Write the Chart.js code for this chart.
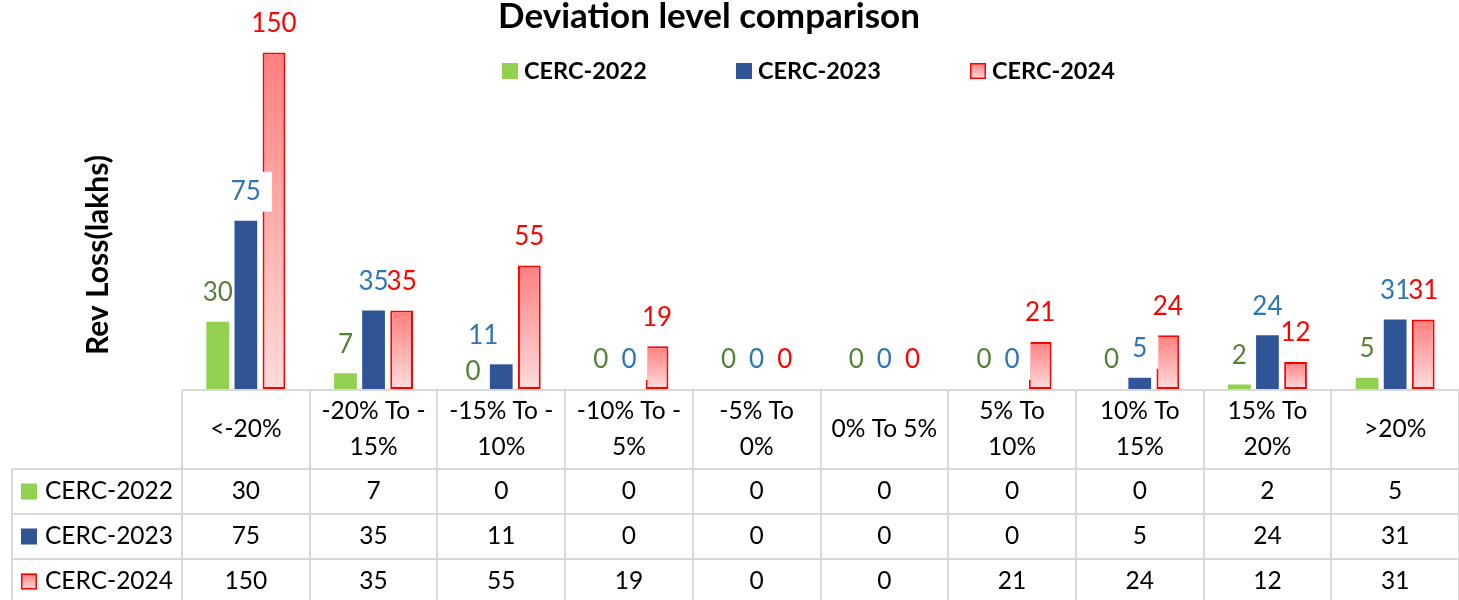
<!DOCTYPE html>
<html>
<head>
<meta charset="utf-8">
<script src="https://cdn.jsdelivr.net/npm/chart.js@4.4.1/dist/chart.umd.min.js"></script>
<style>
    html, body { margin: 0; padding: 0; background: #fff; }
    #wrap { width: 1459px; height: 600px; }
</style>
</head>
<body>
<div id="wrap"><canvas id="myChart"></canvas></div>
<script>
const labels = [
    ['<-20%'],
    ['-20% To -', '15%'],
    ['-15% To -', '10%'],
    ['-10% To -', '5%'],
    ['-5% To', '0%'],
    ['0% To 5%'],
    ['5% To', '10%'],
    ['10% To', '15%'],
    ['15% To', '20%'],
    ['>20%'],
];

const seriesNames = ['CERC-2022', 'CERC-2023', 'CERC-2024'];
const cerc2022 = [30, 7, 0, 0, 0, 0, 0, 0, 2, 5];
const cerc2023 = [75, 35, 11, 0, 0, 0, 0, 5, 24, 31];
const cerc2024 = [150, 35, 55, 19, 0, 0, 21, 24, 12, 31];

const FONT = 'Lato, sans-serif';
const labelColors = ['#548235', '#2e75b6', '#ff0000'];
const gridColor = '#d9d9d9';

// labels that were nudged by hand in the original (dataset-index: [dx, dy])
const labelNudge = { '0-2': [0, 12], '1-2': [-18, 0] };

// Excel style pink gradient, one per bar (dark top -> light bottom)
function redGradient(c, top, bottom) {
    const g = c.createLinearGradient(0, top, 0, bottom);
    g.addColorStop(0, '#ff7f7f');
    g.addColorStop(1, '#ffdcdc');
    return g;
}

function drawKey(c, di, x, y, size) {
    if (di === 2) {
        c.fillStyle = redGradient(c, y, y + size);
        c.fillRect(x, y, size, size);
        c.strokeStyle = '#ff0000';
        c.lineWidth = 1.5;
        c.strokeRect(x + 0.75, y + 0.75, size - 1.5, size - 1.5);
    } else {
        c.fillStyle = di === 0 ? '#92d050' : '#2f5597';
        c.fillRect(x, y, size, size);
    }
}

const extras = {
    id: 'extras',
    afterDatasetsDraw(chart) {
        const c = chart.ctx;
        const yScale = chart.scales.y;
        c.save();
        c.font = '26px ' + FONT;
        c.textAlign = 'center';
        c.textBaseline = 'middle';
        const items = [];
        chart.data.datasets.forEach((ds, di) => {
            chart.getDatasetMeta(di).data.forEach((bar, i) => {
                const nudge = labelNudge[di + '-' + i] || [0, 0];
                items.push({
                    di: di,
                    text: String(ds.data[i]),
                    x: bar.x + nudge[0],
                    y: yScale.getPixelForValue(ds.data[i]) - 29 + nudge[1]
                });
            });
        });
        // the blue labels sit on a white box
        c.fillStyle = '#fff';
        items.filter(it => it.di === 1).forEach(it => {
            const w = c.measureText(it.text).width + 22;
            c.fillRect(it.x - w / 2, it.y - 20, w, 40);
        });
        items.forEach(it => {
            c.fillStyle = labelColors[it.di];
            c.fillText(it.text, it.x, it.y);
        });
        c.restore();
    },
    afterDraw(chart) {
        const c = chart.ctx;
        const area = chart.chartArea;
        const xScale = chart.scales.x;
        const colW = (area.right - area.left) / labels.length;
        c.save();

        // title
        c.fillStyle = '#000';
        c.textAlign = 'center';
        c.textBaseline = 'middle';
        c.font = 'bold 35px ' + FONT;
        c.fillText('Deviation level comparison', 709, 17);

        // legend
        c.font = 'bold 23.5px ' + FONT;
        c.textAlign = 'left';
        seriesNames.forEach((name, di) => {
            const x = 502 + di * 234;
            drawKey(c, di, x, 63, 16);
            c.fillStyle = '#000';
            c.fillText(name, x + 22, 71);
        });

        // y axis title
        c.save();
        c.translate(98, 255);
        c.rotate(-Math.PI / 2);
        c.textAlign = 'center';
        c.font = 'bold 30px ' + FONT;
        c.fillText('Rev Loss(lakhs)', 0, 0);
        c.restore();

        // data table
        const top = 390, rowTop = 469, rowH = 45, bottom = 600, left = 12;
        c.strokeStyle = gridColor;
        c.lineWidth = 2;
        c.beginPath();
        c.moveTo(area.left, top); c.lineTo(area.right, top);
        for (let r = 0; r < 3; r++) {
            c.moveTo(left, rowTop + r * rowH); c.lineTo(area.right, rowTop + r * rowH);
        }
        c.moveTo(left, rowTop); c.lineTo(left, bottom);
        for (let i = 0; i <= labels.length; i++) {
            const x = Math.round(area.left + i * colW);
            c.moveTo(x, top); c.lineTo(x, bottom);
        }
        c.stroke();

        c.font = '24.5px ' + FONT;
        c.textAlign = 'center';
        c.fillStyle = '#000';
        labels.forEach((lines, i) => {
            const x = xScale.getPixelForValue(i);
            if (lines.length === 1) {
                c.fillText(lines[0], x, 429);
            } else {
                c.fillText(lines[0], x, 411);
                c.fillText(lines[1], x, 447);
            }
        });

        chart.data.datasets.forEach((ds, di) => {
            const cy = rowTop + di * rowH + rowH / 2;
            drawKey(c, di, 21, cy - 8, 16);
            c.fillStyle = '#000';
            c.textAlign = 'left';
            c.fillText(seriesNames[di], 45, cy);
            c.textAlign = 'center';
            ds.data.forEach((v, i) => {
                c.fillText(String(v), xScale.getPixelForValue(i), cy);
            });
        });
        c.restore();
    }
};

const data = {
    labels: labels,
    datasets: [{
        label: seriesNames[0],
        data: cerc2022,
        backgroundColor: '#92d050',
        borderWidth: 0,
    }, {
        label: seriesNames[1],
        data: cerc2023,
        backgroundColor: '#2f5597',
        borderWidth: 0,
    }, {
        label: seriesNames[2],
        data: cerc2024,
        backgroundColor: (ctx) => {
            const chart = ctx.chart;
            if (!chart.chartArea || ctx.raw === undefined) return '#ff9999';
            const y = chart.scales.y;
            return redGradient(chart.ctx, y.getPixelForValue(ctx.raw), y.getPixelForValue(0));
        },
        borderColor: '#ff0000',
        borderWidth: (ctx) => (ctx.raw ? 2 : 0),
        borderSkipped: false,
    }]
};

const config = {
    type: 'bar',
    data: data,
    options: {
        responsive: true,
        maintainAspectRatio: false,
        animation: false,
        layout: {
            padding: { left: 182, right: 0, top: 30, bottom: 211 }
        },
        datasets: {
            bar: { categoryPercentage: 0.66, barPercentage: 0.81 }
        },
        scales: {
            x: { display: false },
            y: { display: false, min: 0, max: 160 }
        },
        plugins: {
            legend: { display: false },
            tooltip: { enabled: false },
            title: { display: false }
        }
    },
    plugins: [extras]
};

const myChart = new Chart(
    document.getElementById('myChart'),
    config
);
</script>
</body>
</html>
